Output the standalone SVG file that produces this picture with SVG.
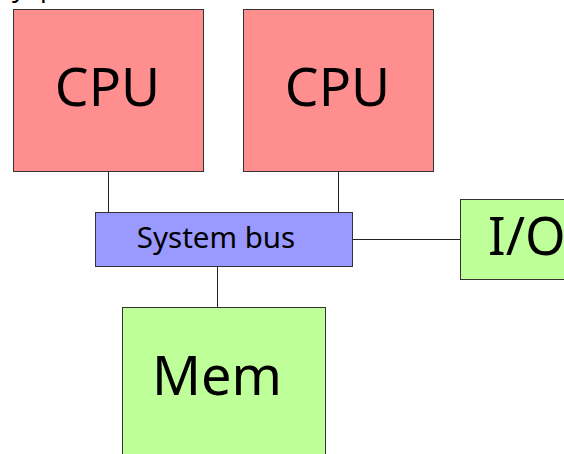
<svg xmlns="http://www.w3.org/2000/svg" width="564" height="454" viewBox="0 0 564 454">
<style>
.box{stroke:#333;stroke-width:1}
.cpu{fill:#ff8f8f}
.bus{fill:#9999ff}
.grn{fill:#bfff99}
.conn line{stroke:#222;stroke-width:1}
text{font-family:"Noto Sans","Open Sans",sans-serif;fill:#000}
</style>
<rect width="564" height="454" fill="#fff"/>
<text x="12" y="-3" font-size="26">y<tspan x="40">p</tspan></text>
<g id="conns" class="conn">
<line x1="108.5" y1="171" x2="108.5" y2="213"/>
<line x1="338.5" y1="171" x2="338.5" y2="213"/>
<line x1="217.5" y1="266" x2="217.5" y2="308"/>
<line x1="352" y1="239.5" x2="461" y2="239.5"/>
</g>
<g id="cpu1">
<rect class="box cpu" x="13.5" y="9.5" width="190" height="162"/>
<text x="107.5" y="106" font-size="53.5" text-anchor="middle">CPU</text>
</g>
<g id="cpu2">
<rect class="box cpu" x="243.5" y="9.5" width="190" height="162"/>
<text x="337.5" y="106" font-size="53.5" text-anchor="middle">CPU</text>
</g>
<g id="bus">
<rect class="box bus" x="95.5" y="212.5" width="257" height="54"/>
<text x="216" y="247.5" font-size="29.5" text-anchor="middle">System bus</text>
</g>
<g id="io">
<rect class="box grn" x="460.5" y="199.5" width="120" height="80"/>
<text x="488" y="255" font-size="52">I/O</text>
</g>
<g id="mem">
<rect class="box grn" x="122.5" y="307.5" width="203" height="160"/>
<text x="217" y="395" font-size="54" text-anchor="middle">Mem</text>
</g>
</svg>
